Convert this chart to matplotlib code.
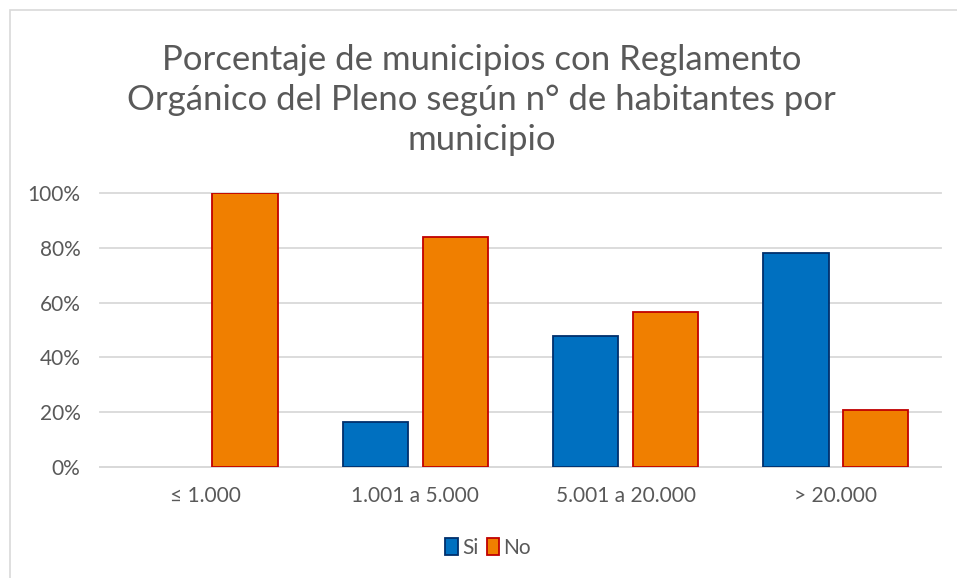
import matplotlib
matplotlib.use("Agg")
import matplotlib.pyplot as plt
import numpy as np
from matplotlib.patches import Rectangle
from matplotlib.ticker import PercentFormatter

# data
categories = ["≤ 1.000", "1.001 a 5.000", "5.001 a 20.000", "> 20.000"]
si_values = [0.0, 16.5, 47.8, 78.3]
no_values = [100.0, 83.9, 56.5, 20.7]

title = "Porcentaje de municipios con Reglamento\nOrgánico del Pleno según n° de habitantes por\nmunicipio"

plt.rcParams['font.family'] = ['Lato', 'DejaVu Sans']
text_grey = "#595959"

fig = plt.figure(figsize=(9.57, 5.78), dpi=100)
fig.patch.set_facecolor("white")

# outer chart frame (only left and top edges visible in the crop)
fig.add_artist(Rectangle((10 / 957, -0.1), 1.2, 1 - 10 / 578 + 0.1,
                         transform=fig.transFigure, fill=False,
                         edgecolor="#D9D9D9", linewidth=1.2))

ax = fig.add_axes([100 / 957, 1 - 466.7 / 578, 841 / 957, 273.4 / 578])

x = np.arange(len(categories))
w = 0.31
off = 0.19
# zero-height bars get no outline
si_lw = [0 if v == 0 else 1.3 for v in si_values]
no_lw = [0 if v == 0 else 1.3 for v in no_values]
ax.bar(x - off, si_values, w, color="#0070C0", edgecolor="#002F6C",
       linewidth=si_lw, label="Si", zorder=3)
ax.bar(x + off, no_values, w, color="#F07F00", edgecolor="#C00000",
       linewidth=no_lw, label="No", zorder=3)

ax.set_xlim(-0.5, len(categories) - 0.5)
ax.set_ylim(0, 100)
ax.set_yticks([0, 20, 40, 60, 80, 100])
ax.yaxis.set_major_formatter(PercentFormatter(decimals=0))
ax.set_xticks(x)
ax.set_xticklabels(categories)

ax.grid(axis="y", color="#D9D9D9", linewidth=1.3, zorder=0)
for gl in ax.get_ygridlines():
    gl.set_clip_on(False)
for s in ["top", "right", "left"]:
    ax.spines[s].set_visible(False)
ax.spines["bottom"].set_color("#D9D9D9")
ax.spines["bottom"].set_linewidth(1.3)
ax.tick_params(axis="both", length=0, labelsize=15, colors=text_grey)
ax.tick_params(axis="x", pad=14)
ax.tick_params(axis="y", pad=14)

fig.text(0.503, 1 - 100 / 578, title, ha="center", va="center",
         fontsize=25, color=text_grey, linespacing=1.3)

leg = fig.legend(loc="center", bbox_to_anchor=(0.51, 1 - 548 / 578), ncol=2,
                 frameon=False, fontsize=15, handlelength=0.6, handleheight=0.9,
                 handletextpad=0.2, columnspacing=0.4)
for t in leg.get_texts():
    t.set_color(text_grey)
for h in leg.legend_handles:
    h.set_linewidth(1.3)

fig.savefig("out.png", dpi=100)
